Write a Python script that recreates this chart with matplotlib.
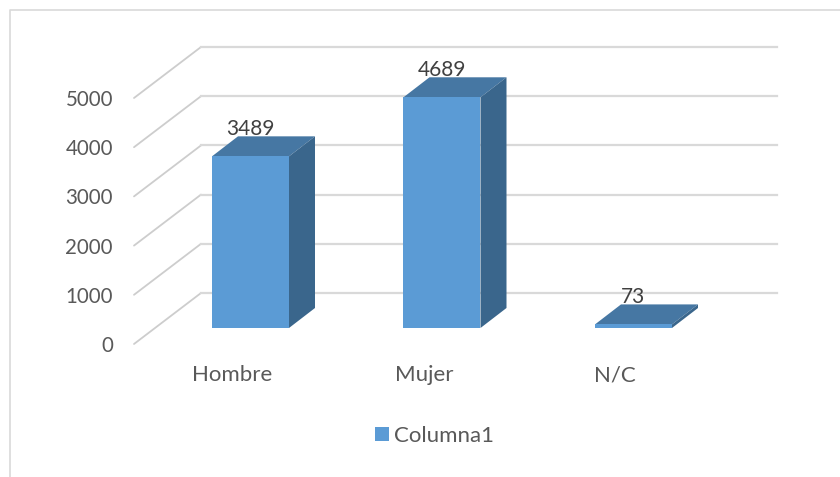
import matplotlib.pyplot as plt
from matplotlib.patches import Polygon, Rectangle

categories = ['Hombre', 'Mujer', 'N/C']
values = [3489, 4689, 73]
y_ticks = [0, 1000, 2000, 3000, 4000, 5000]
series_name = 'Columna1'

FRONT_COLOR = '#5B9BD5'
TOP_COLOR = '#4677A3'
SIDE_COLOR = '#3A668C'
GRID_COLOR = '#D9D9D9'
WALL_COLOR = '#CDCDCD'

# scale of the picture: one category = 191.5 px, 1000 units = 49.2 px
PX_X = 191.5
PX_Y = 0.0492
ORIGIN_X = 250.5
ORIGIN_Y = 328


def to_x(px):
    return (px - ORIGIN_X) / PX_X


def to_y(px):
    return (ORIGIN_Y - px) / PX_Y


BAR_W = 77 / PX_X
DEPTH_X = 26 / PX_X
DEPTH_Y = 20 / PX_Y

plt.rcParams['font.family'] = ['Lato', 'DejaVu Sans']

fig = plt.figure(figsize=(8.4, 4.7701), dpi=100)
ax = fig.add_axes([0, 0, 1, 1])
ax.set_xlim(to_x(0), to_x(840))
ax.set_ylim(to_y(477), to_y(0))
ax.axis('off')

# chart border, open on the right and at the bottom
ax.plot([to_x(10), to_x(10), to_x(840)], [to_y(477), to_y(10), to_y(10)],
        color=GRID_COLOR, lw=1.2, zorder=1)

# floor and back wall lines
wall_front = to_y(344)
wall_back = to_y(293)
for tick in y_ticks:
    ax.plot([to_x(134), to_x(201)], [wall_front + tick, wall_back + tick],
            color=WALL_COLOR, lw=1.3, zorder=2, solid_capstyle='round')
    ax.plot([to_x(201), to_x(777)], [wall_back + tick, wall_back + tick],
            color=GRID_COLOR, lw=1.6, zorder=2)
    ax.text(to_x(113), wall_front + tick, str(tick), ha='right', va='center_baseline',
            fontsize=14.8, color='#595959')

for i, (name, val) in enumerate(zip(categories, values)):
    left = i - BAR_W / 2
    right = i + BAR_W / 2
    ax.add_patch(Polygon([(left, val), (right, val), (right + DEPTH_X, val + DEPTH_Y),
                          (left + DEPTH_X, val + DEPTH_Y)],
                         facecolor=TOP_COLOR, edgecolor='none', zorder=3))
    ax.add_patch(Polygon([(right, 0), (right + DEPTH_X, DEPTH_Y),
                          (right + DEPTH_X, val + DEPTH_Y), (right, val)],
                         facecolor=SIDE_COLOR, edgecolor='none', zorder=3))
    ax.add_patch(Rectangle((left, 0), BAR_W, val, facecolor=FRONT_COLOR,
                           edgecolor='none', zorder=4,
                           label=series_name if i == 0 else None))
    ax.text(i, val + DEPTH_Y + 25, str(val), ha='center', va='baseline',
            fontsize=15, color='#404040', zorder=5)
    ax.text(i - 0.095, to_y(373), name, ha='center', va='center_baseline',
            fontsize=16, color='#595959')

ax.legend(loc='center', bbox_to_anchor=(434.5 / 840, 1 - 436 / 477), frameon=False,
          fontsize=16, handlelength=0.63, handleheight=0.63, handletextpad=0.23,
          labelcolor='#595959')

plt.savefig('out.png', dpi=100)
